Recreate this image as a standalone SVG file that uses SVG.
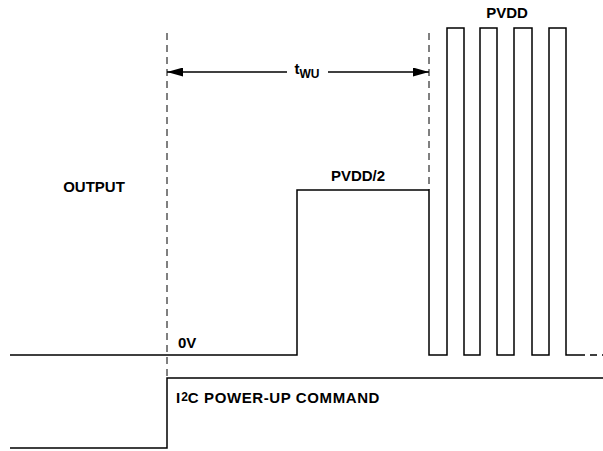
<svg xmlns="http://www.w3.org/2000/svg" width="603" height="451" viewBox="0 0 603 451">
<defs>
<style>
.w{fill:none;stroke:#000;stroke-width:1.5}
.d{fill:none;stroke:#000;stroke-width:1;stroke-dasharray:7,5}
.t{font-family:"Liberation Sans",Arial,sans-serif;font-weight:bold;font-size:15px;fill:#000}
</style>
<marker id="ah" viewBox="0 0 16 9" refX="16" refY="4.5" markerWidth="16" markerHeight="9" markerUnits="userSpaceOnUse" orient="auto-start-reverse">
<path d="M0,0 L16,4.5 L0,9 Z" fill="#000"/>
</marker>
</defs>
<rect width="603" height="451" fill="#fff"/>
<g id="connectors">
<path class="d" d="M167,33 V378"/>
<path class="d" d="M429,33 V190"/>
<path class="w" d="M167,72 H287" marker-start="url(#ah)"/>
<path class="w" d="M328,72 H429" marker-end="url(#ah)"/>
</g>
<g id="output-wave">
<path class="w" d="M10,355 H297 V190 H429 V355 H447 V28 H464 V355 H480 V28 H497 V355 H514 V28 H532 V355 H549 V28 H566 V355 H578"/>
<path class="d" d="M578,355 H603" style="stroke-width:1.5"/>
</g>
<g id="i2c-wave">
<path class="w" d="M10,448 H167 V378 H603"/>
</g>
<g id="labels">
<text class="t" x="307" y="74" text-anchor="middle">t<tspan font-size="12" dy="4">WU</tspan></text>
<text class="t" x="507" y="18" text-anchor="middle">PVDD</text>
<text class="t" x="358" y="181" text-anchor="middle">PVDD/2</text>
<text class="t" x="94" y="192" text-anchor="middle">OUTPUT</text>
<text class="t" x="178" y="348">0V</text>
<text class="t" x="176" y="403">I<tspan font-size="12" dy="-2" dx="1">2</tspan><tspan dy="2" letter-spacing="0.6">C POWER-UP COMMAND</tspan></text>
</g>
</svg>
